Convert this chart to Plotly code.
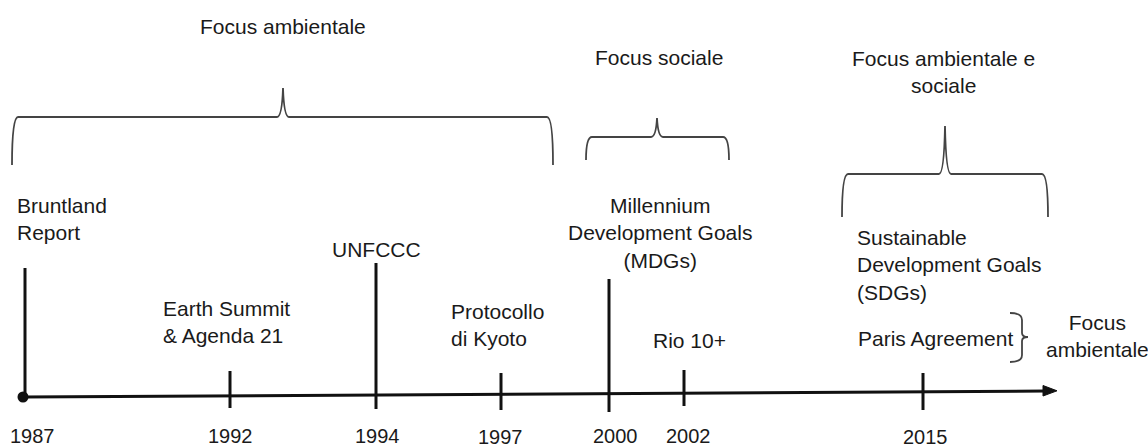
import plotly.graph_objects as go

# ---------------- data ----------------
years = ["1987", "1992", "1994", "1997", "2000", "2002", "2015"]
events = [
    "Bruntland<br>Report",
    "Earth Summit<br>& Agenda 21",
    "UNFCCC",
    "Protocollo<br>di Kyoto",
    "Millennium<br>Development Goals<br>(MDGs)",
    "Rio 10+",
    "Sustainable<br>Development Goals<br>(SDGs)",
]
extra_event = "Paris Agreement"
extra_focus = "Focus<br>ambientale"
group_labels = ["Focus ambientale", "Focus sociale", "Focus ambientale e<br>sociale"]

# ---------------- layout (pixel placement of the hand-drawn timeline) ----------------
W, H = 1148, 448
tick_x = [25, 230, 376, 501, 609, 684, 923]
tick_top = [268, 371, 263, 373, 279, 370, 373]
tick_bot = [397, 408, 409, 410, 412, 406, 410]
year_x = [32, 230, 377, 500, 615, 688, 925]
year_y = [436, 436, 436, 437, 436, 436, 437]
ev_x = [15, 161, 330, 449, 660, 651, 855]
ev_y = [219, 322, 249, 325, 233, 340, 265]
ev_anchor = ["left", "left", "left", "left", "center", "left", "left"]

TXT = "#1a1a1a"
FONT = "Liberation Sans, Arial, sans-serif"
BR = "#444444"

fig = go.Figure()

# timeline axis
fig.add_trace(go.Scatter(x=[23, 1046], y=[397, 391], mode="lines",
                         line=dict(color="#111", width=3), hoverinfo="skip"))
# tick marks
tx, ty = [], []
for x, t, b in zip(tick_x, tick_top, tick_bot):
    tx += [x, x, None]
    ty += [t, b, None]
fig.add_trace(go.Scatter(x=tx, y=ty, mode="lines",
                         line=dict(color="#111", width=3), hoverinfo="skip"))
# start dot
fig.add_trace(go.Scatter(x=[23], y=[397], mode="markers",
                         marker=dict(color="#111", size=11), hoverinfo="skip"))

shapes = []
# arrow head
shapes.append(dict(type="path", path="M 1043,385.5 L 1057,390.8 L 1043,396 Z",
                   fillcolor="#111", line=dict(color="#111", width=1)))


def brace(x0, x1, xc, yh, yp, yb, r=6):
    p = (f"M {x0},{yb} Q {x0},{yh} {x0 + r},{yh} "
         f"L {xc - 6},{yh} Q {xc - 1},{yh} {xc},{yp} "
         f"Q {xc + 1},{yh} {xc + 6},{yh} "
         f"L {x1 - r},{yh} Q {x1},{yh} {x1},{yb}")
    return dict(type="path", path=p, line=dict(color=BR, width=1.8))


shapes.append(brace(12, 553, 283, 117, 88, 165))
shapes.append(brace(586, 729, 657, 137, 118, 160))
shapes.append(brace(842, 1048, 945, 174, 126, 217))
# small right brace next to Paris Agreement
shapes.append(dict(type="path",
                   path="M 1010,313 Q 1022,313 1022,320 L 1022,333 Q 1022,337 1028,337 "
                        "Q 1022,337 1022,341 L 1022,355 Q 1022,362 1010,362",
                   line=dict(color=BR, width=1.8)))

ann = []
for lab, x, y in zip(years, year_x, year_y):
    ann.append(dict(x=x, y=y, text=lab, showarrow=False, xanchor="center", yanchor="middle",
                    font=dict(family=FONT, size=20, color=TXT)))
for lab, x, y, a in zip(events, ev_x, ev_y, ev_anchor):
    ann.append(dict(x=x, y=y, text=lab, showarrow=False, xanchor=a, yanchor="middle",
                    align=a, font=dict(family=FONT, size=21, color=TXT)))
ann.append(dict(x=856, y=338, text=extra_event, showarrow=False, xanchor="left", yanchor="middle",
                font=dict(family=FONT, size=21, color=TXT)))
ann.append(dict(x=1097, y=336, text=extra_focus, showarrow=False, xanchor="center",
                yanchor="middle", align="center", font=dict(family=FONT, size=21, color=TXT)))
for lab, x, y in zip(group_labels, [283, 659, 943], [26, 57, 72]):
    ann.append(dict(x=x, y=y, text=lab, showarrow=False, xanchor="center", yanchor="middle",
                    align="center", font=dict(family=FONT, size=21, color=TXT)))

fig.update_layout(
    width=W, height=H, margin=dict(l=0, r=0, t=0, b=0),
    paper_bgcolor="white", plot_bgcolor="white", showlegend=False,
    xaxis=dict(range=[0, W], visible=False, fixedrange=True),
    yaxis=dict(range=[H, 0], visible=False, fixedrange=True),
    shapes=shapes, annotations=ann,
)
fig.write_html("out.html", config={"displayModeBar": False},
               post_script="document.body.style.margin='0';document.body.style.overflow='hidden';")
